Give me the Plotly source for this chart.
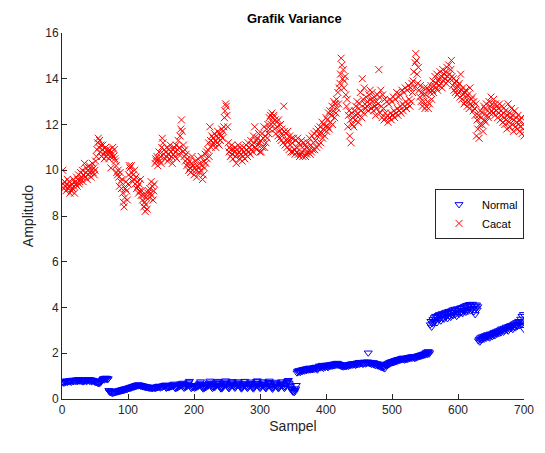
import plotly.graph_objects as go

# Variance per sample, two classes
normal = [
    0.72, 0.75, 0.70, 0.78, 0.74, 0.76, 0.80, 0.73, 0.77, 0.79,
    0.76, 0.81, 0.78, 0.74, 0.80, 0.83, 0.77, 0.79, 0.82, 0.78,
    0.84, 0.80, 0.77, 0.82, 0.86, 0.79, 0.81, 0.85, 0.78, 0.83,
    0.80, 0.76, 0.82, 0.79, 0.84, 0.81, 0.77, 0.83, 0.80, 0.86,
    0.82, 0.78, 0.85, 0.80, 0.76, 0.83, 0.79, 0.81, 0.77, 0.74,
    0.78, 0.72, 0.75, 0.70, 0.73, 0.68, 0.74, 0.71, 0.76, 0.79,
    0.82, 0.86, 0.90, 0.84, 0.88, 0.92, 0.87, 0.91, 0.85, 0.89,
    0.38, 0.32, 0.29, 0.35, 0.27, 0.31, 0.25, 0.30, 0.28, 0.33,
    0.29, 0.34, 0.31, 0.36, 0.32, 0.37, 0.34, 0.39, 0.35, 0.40,
    0.37, 0.42, 0.38, 0.44, 0.40, 0.45, 0.42, 0.47, 0.43, 0.48,
    0.46, 0.50, 0.47, 0.52, 0.49, 0.54, 0.51, 0.56, 0.53, 0.58,
    0.55, 0.60, 0.57, 0.62, 0.58, 0.63, 0.59, 0.61, 0.57, 0.60,
    0.56, 0.58, 0.54, 0.57, 0.53, 0.55, 0.51, 0.54, 0.50, 0.53,
    0.49, 0.52, 0.48, 0.51, 0.47, 0.50, 0.46, 0.49, 0.52, 0.48,
    0.51, 0.47, 0.53, 0.50, 0.55, 0.52, 0.57, 0.54, 0.49, 0.53,
    0.56, 0.52, 0.58, 0.55, 0.60, 0.57, 0.62, 0.48, 0.51, 0.54,
    0.50, 0.55, 0.52, 0.58, 0.54, 0.60, 0.56, 0.63, 0.59, 0.66,
    0.50, 0.46, 0.53, 0.49, 0.56, 0.52, 0.59, 0.55, 0.62, 0.67,
    0.58, 0.64, 0.70, 0.52, 0.48, 0.55, 0.51, 0.58, 0.63, 0.57,
    0.66, 0.72, 0.78, 0.60, 0.52, 0.47, 0.54, 0.50, 0.57, 0.53,
    0.48, 0.55, 0.51, 0.58, 0.54, 0.61, 0.57, 0.64, 0.70, 0.76,
    0.62, 0.55, 0.49, 0.45, 0.52, 0.48, 0.55, 0.51, 0.58, 0.63,
    0.57, 0.65, 0.71, 0.79, 0.68, 0.60, 0.53, 0.47, 0.54, 0.50,
    0.57, 0.53, 0.60, 0.66, 0.72, 0.78, 0.69, 0.61, 0.55, 0.49,
    0.45, 0.52, 0.48, 0.56, 0.62, 0.68, 0.75, 0.80, 0.70, 0.63,
    0.56, 0.50, 0.46, 0.53, 0.59, 0.65, 0.72, 0.77, 0.67, 0.60,
    0.54, 0.48, 0.52, 0.58, 0.64, 0.71, 0.76, 0.68, 0.61, 0.55,
    0.49, 0.45, 0.51, 0.57, 0.63, 0.70, 0.78, 0.66, 0.59, 0.53,
    0.47, 0.52, 0.58, 0.64, 0.69, 0.75, 0.62, 0.55, 0.49, 0.45,
    0.51, 0.57, 0.63, 0.70, 0.77, 0.80, 0.68, 0.60, 0.53, 0.47,
    0.52, 0.58, 0.65, 0.71, 0.76, 0.64, 0.57, 0.50, 0.46, 0.53,
    0.59, 0.66, 0.73, 0.79, 0.69, 0.61, 0.54, 0.48, 0.44, 0.50,
    0.56, 0.62, 0.68, 0.74, 0.63, 0.56, 0.50, 0.46, 0.52, 0.58,
    0.64, 0.70, 0.76, 0.66, 0.59, 0.52, 0.47, 0.53, 0.60, 0.67,
    0.73, 0.78, 0.82, 0.70, 0.62, 0.55, 0.48, 0.42, 0.36, 0.31,
    0.33, 0.29, 0.38, 0.45, 0.60, 1.15, 1.22, 1.18, 1.25, 1.20,
    1.17, 1.24, 1.28, 1.21, 1.26, 1.30, 1.23, 1.27, 1.32, 1.25,
    1.29, 1.34, 1.27, 1.31, 1.36, 1.28, 1.33, 1.30, 1.35, 1.29,
    1.34, 1.38, 1.31, 1.36, 1.40, 1.33, 1.28, 1.35, 1.39, 1.45,
    1.41, 1.37, 1.43, 1.48, 1.40, 1.35, 1.42, 1.46, 1.39, 1.44,
    1.49, 1.42, 1.38, 1.45, 1.50, 1.43, 1.47, 1.52, 1.44, 1.48,
    1.53, 1.46, 1.50, 1.55, 1.48, 1.51, 1.57, 1.49, 1.54, 1.47,
    1.52, 1.45, 1.50, 1.43, 1.48, 1.41, 1.46, 1.44, 1.49, 1.42,
    1.47, 1.45, 1.50, 1.44, 1.48, 1.52, 1.46, 1.51, 1.55, 1.49,
    1.53, 1.50, 1.56, 1.52, 1.48, 1.54, 1.58, 1.51, 1.55, 1.60,
    1.53, 1.57, 1.61, 1.55, 1.59, 1.52, 1.56, 1.62, 1.58, 1.54,
    1.60, 1.57, 1.63, 2.02, 1.59, 1.55, 1.61, 1.56, 1.52, 1.58,
    1.54, 1.60, 1.50, 1.56, 1.47, 1.53, 1.49, 1.55, 1.45, 1.51,
    1.43, 1.48, 1.40, 1.46, 1.38, 1.44, 1.36, 1.42, 1.33, 1.48,
    1.52, 1.46, 1.55, 1.50, 1.58, 1.53, 1.61, 1.56, 1.63, 1.59,
    1.65, 1.60, 1.67, 1.62, 1.69, 1.64, 1.71, 1.66, 1.73, 1.68,
    1.74, 1.70, 1.76, 1.72, 1.78, 1.73, 1.80, 1.75, 1.71, 1.77,
    1.73, 1.79, 1.74, 1.81, 1.76, 1.82, 1.78, 1.84, 1.79, 1.85,
    1.80, 1.86, 1.82, 1.78, 1.84, 1.80, 1.87, 1.83, 1.89, 1.85,
    1.90, 1.86, 1.92, 1.88, 1.94, 1.90, 1.96, 1.92, 1.98, 1.93,
    1.99, 2.05, 1.95, 2.01, 2.08, 1.97, 2.03, 3.25, 3.40, 3.15,
    3.30, 3.48, 3.35, 3.56, 3.40, 3.62, 3.46, 3.34, 3.58, 3.66,
    3.48, 3.70, 3.54, 3.42, 3.64, 3.74, 3.52, 3.70, 3.50, 3.77,
    3.60, 3.80, 3.64, 3.52, 3.75, 3.84, 3.62, 3.80, 3.58, 3.86,
    3.68, 3.90, 3.66, 3.80, 3.93, 3.70, 3.86, 3.62, 3.95, 3.76,
    3.88, 3.72, 3.97, 3.78, 4.00, 3.80, 3.74, 4.02, 3.85, 4.06,
    3.88, 3.80, 4.10, 3.92, 3.84, 4.12, 3.94, 4.14, 3.86, 4.05,
    3.92, 4.15, 3.97, 3.82, 4.08, 3.70, 3.98, 4.12, 3.90, 4.04,
    2.55, 2.62, 2.50, 2.68, 2.58, 2.72, 2.60, 2.66, 2.75, 2.63,
    2.70, 2.78, 2.67, 2.74, 2.82, 2.71, 2.79, 2.68, 2.85, 2.76,
    2.83, 2.73, 2.88, 2.80, 2.92, 2.78, 2.86, 2.95, 2.84, 2.91,
    2.99, 2.87, 2.95, 3.02, 2.90, 3.07, 2.97, 3.04, 2.93, 3.10,
    3.00, 3.08, 3.15, 3.03, 3.12, 2.98, 3.18, 3.06, 3.14, 3.22,
    3.10, 3.20, 3.05, 3.26, 3.15, 3.30, 3.12, 3.24, 3.35, 3.18,
    3.28, 3.40, 3.22, 3.33, 3.50, 3.25, 3.62, 3.38, 3.70, 3.05,
]

cacat = [
    10.0, 9.4, 9.2, 9.5, 9.3, 9.1, 9.4, 9.6, 9.2, 9.3,
    9.5, 9.0, 9.3, 9.1, 9.4, 9.2, 9.6, 9.3, 9.0, 9.5,
    9.4, 9.7, 9.3, 9.6, 9.8, 9.4, 9.5, 9.9, 9.6, 9.7,
    10.0, 9.5, 9.8, 10.3, 9.7, 9.9, 10.1, 9.6, 10.0, 9.8,
    10.2, 9.9, 10.1, 9.7, 10.0, 10.3, 9.9, 10.1, 9.8, 10.0,
    10.4, 10.6, 10.9, 11.2, 11.4, 11.0, 11.3, 10.8, 11.1, 10.6,
    10.9, 11.1, 10.7, 10.5, 10.8, 11.0, 10.6, 10.9, 10.7, 10.8,
    10.5, 10.9, 10.6, 10.1, 10.8, 10.7, 11.0, 10.6, 10.9, 10.5,
    10.4, 10.2, 9.9, 9.8, 10.0, 9.7, 9.3, 9.9, 9.5, 9.2,
    9.6, 9.0, 8.6, 8.4, 8.8, 9.2, 9.5, 9.1, 8.7, 9.4,
    9.8, 10.2, 10.1, 9.7, 10.2, 9.9, 9.5, 9.8, 9.6, 10.0,
    9.4, 9.7, 9.2, 9.5, 9.3, 9.0, 9.4, 9.1, 9.6, 8.9,
    9.1, 8.7, 8.9, 8.4, 8.6, 8.2, 8.5, 8.8, 8.3, 9.0,
    9.1, 8.8, 9.2, 9.0, 9.5, 8.9, 9.3, 8.7, 9.1, 9.4,
    10.3, 10.5, 10.4, 10.6, 10.2, 10.5, 10.8, 10.4, 10.6, 10.3,
    11.0, 11.4, 11.2, 10.7, 10.9, 10.5, 10.8, 10.6, 11.0, 10.4,
    10.7, 10.9, 10.5, 11.1, 10.8, 10.6, 10.3, 10.9, 10.7, 11.0,
    10.6, 10.8, 11.1, 10.5, 10.9, 11.3, 10.7, 11.0, 11.5, 11.8,
    12.2, 11.7, 10.8, 11.1, 10.6, 10.9, 10.4, 10.7, 10.2, 10.5,
    10.3, 10.0, 10.4, 10.1, 9.9, 10.3, 10.6, 10.0, 10.2, 9.8,
    10.1, 10.4, 10.0, 9.7, 10.2, 10.5, 10.1, 9.9, 10.3, 10.0,
    10.6, 10.2, 9.6, 9.8, 10.4, 10.1, 10.7, 10.3, 10.8, 10.5,
    10.9, 11.2, 10.6, 11.9, 11.3, 11.0, 11.5, 11.1, 11.4, 11.2,
    11.6, 11.3, 11.0, 11.5, 11.2, 11.7, 11.4, 11.1, 11.6, 11.3,
    11.5, 11.8, 11.4, 11.7, 11.9, 12.3, 12.6, 12.9, 12.8, 12.4,
    11.9, 11.2, 10.8, 11.0, 10.6, 10.9, 11.1, 10.7, 10.5, 10.9,
    10.8, 11.0, 10.6, 10.3, 10.9, 10.7, 11.1, 10.8, 10.5, 11.0,
    10.7, 10.9, 10.4, 10.6, 11.0, 10.8, 10.5, 10.7, 11.1, 10.9,
    10.6, 11.2, 10.8, 11.0, 10.7, 11.3, 10.9, 11.1, 10.8, 11.5,
    11.2, 11.9, 11.0, 11.3, 10.9, 11.4, 11.1, 11.6, 11.2, 10.8,
    11.3, 10.8, 11.6, 11.0, 11.4, 11.9, 11.0, 11.5, 11.2, 11.8,
    11.4, 12.0, 11.6, 12.3, 11.8, 12.4, 12.0, 12.5, 12.1, 12.3,
    12.4, 11.8, 12.2, 11.6, 12.1, 11.9, 11.5, 12.2, 11.7, 11.4,
    12.0, 11.3, 11.8, 11.6, 11.2, 12.8, 11.7, 11.1, 11.6, 11.3,
    11.0, 11.7, 11.3, 10.9, 11.5, 11.1, 10.8, 11.4, 11.2, 10.8,
    11.4, 10.9, 10.7, 11.3, 11.0, 10.8, 11.4, 10.7, 11.2, 10.6,
    11.1, 10.7, 11.3, 10.8, 10.6, 11.2, 10.9, 11.1, 10.6, 11.0,
    10.7, 11.2, 10.8, 10.9, 11.4, 10.7, 11.1, 10.8, 11.5, 10.9,
    11.2, 11.6, 10.9, 11.3, 11.7, 11.0, 11.5, 11.8, 11.1, 11.6,
    11.9, 11.2, 11.6, 12.1, 11.4, 11.8, 12.0, 11.5, 11.9, 12.3,
    11.7, 12.2, 11.9, 12.5, 11.8, 12.6, 12.1, 12.4, 12.8, 12.0,
    12.6, 13.0, 12.3, 12.9, 12.5, 13.1, 12.7, 13.4, 12.9, 13.6,
    13.8, 14.2, 14.9, 14.6, 14.0, 14.4, 13.6, 13.9, 14.1, 13.3,
    12.8, 13.1, 11.9, 12.4, 12.6, 11.5, 12.2, 11.2, 12.5, 12.0,
    12.3, 11.9, 12.6, 12.2, 12.8, 12.4, 13.0, 12.5, 12.1, 12.7,
    12.9, 13.4, 12.6, 12.3, 14.0, 13.1, 12.5, 13.6, 12.9, 12.7,
    13.2, 12.8, 13.0, 12.6, 13.3, 12.9, 13.5, 13.1, 12.7, 13.4,
    13.0, 12.6, 13.2, 12.8, 12.4, 13.0, 12.7, 13.3, 12.9, 14.4,
    13.2, 12.5, 13.5, 12.8, 12.3, 13.3, 12.7, 12.2, 13.1, 12.5,
    12.3, 13.0, 12.4, 12.1, 12.9, 12.3, 13.1, 12.5, 12.2, 13.0,
    12.4, 13.2, 12.6, 12.3, 13.1, 12.5, 13.4, 12.7, 12.4, 13.2,
    12.6, 13.3, 12.8, 12.5, 13.5, 12.9, 12.6, 13.4, 12.8, 13.6,
    13.0, 12.7, 13.5, 12.9, 13.7, 13.1, 12.8, 13.6, 13.0, 13.8,
    13.4, 13.9, 14.3, 13.6, 14.7, 15.1, 14.8, 14.2, 13.8, 14.5,
    13.5, 13.2, 13.7, 13.0, 13.4, 12.8, 13.3, 13.0, 13.6, 12.7,
    13.3, 12.8, 13.6, 13.0, 12.7, 13.5, 12.9, 13.4, 13.7, 13.1,
    13.5, 13.9, 13.4, 13.7, 14.1, 13.6, 13.8, 14.2, 13.5, 13.9,
    14.0, 13.7, 14.3, 13.8, 14.1, 13.6, 14.4, 13.9, 14.2, 14.0,
    14.3, 13.8, 14.5, 14.1, 13.9, 14.6, 14.2, 14.0, 14.4, 14.8,
    14.1, 13.7, 14.0, 13.5, 13.8, 13.4, 13.9, 13.6, 13.3, 13.7,
    13.4, 13.8, 13.2, 14.2, 13.5, 13.1, 13.6, 13.3, 12.9, 13.4,
    13.0, 13.5, 13.2, 12.8, 13.3, 13.0, 12.7, 13.6, 12.9, 13.1,
    12.8, 13.2, 12.6, 13.0, 12.7, 12.4, 12.9, 11.5, 12.2, 11.8,
    12.4, 11.4, 12.0, 12.6, 12.3, 12.0, 12.5, 11.7, 12.8, 12.2,
    12.7, 12.1, 12.9, 12.4, 12.6, 12.3, 13.0, 12.5, 12.8, 13.2,
    12.6, 12.9, 12.5, 13.1, 12.7, 12.4, 12.9, 12.6, 12.8, 12.3,
    12.7, 12.5, 12.9, 12.2, 12.6, 12.4, 12.8, 12.1, 12.5, 12.3,
    12.0, 12.6, 12.2, 11.8, 12.4, 12.9, 12.1, 12.5, 11.9, 12.3,
    12.7, 12.0, 12.4, 11.7, 12.2, 12.6, 11.9, 12.3, 12.1, 11.8,
    12.4, 12.0, 11.7, 12.2, 11.9, 12.3, 11.6, 12.0, 11.8, 11.5,
]

sampel = list(range(1, len(normal) + 1))
x_ticks = [0, 100, 200, 300, 400, 500, 600, 700]
y_ticks = [0, 2, 4, 6, 8, 10, 12, 14, 16]

AXIS_COLOR = "#262626"
FONT = "Liberation Sans, Arial, Helvetica, sans-serif"

fig = go.Figure()
fig.add_trace(go.Scatter(
    x=sampel, y=normal, mode="markers", name="Normal",
    marker=dict(symbol="triangle-down-open", size=7, color="#0000FF",
                line=dict(width=1, color="#0000FF")),
))
fig.add_trace(go.Scatter(
    x=sampel, y=cacat, mode="markers", name="Cacat",
    marker=dict(symbol="x-thin-open", size=7, color="#FF0000",
                line=dict(width=1, color="#FF0000")),
))

axis_common = dict(
    showgrid=False, zeroline=False, showline=True, linecolor=AXIS_COLOR,
    linewidth=1, mirror=False, ticks="inside", ticklen=5, tickcolor=AXIS_COLOR,
    tickfont=dict(size=12, color=AXIS_COLOR, family=FONT),
)

fig.update_layout(
    width=545, height=453,
    margin=dict(l=62, r=21, t=33, b=54),
    paper_bgcolor="white", plot_bgcolor="white",
    font=dict(family=FONT, color=AXIS_COLOR),
    title=dict(text="<b>Grafik Variance</b>", x=0.54, xanchor="center",
               y=0.96, yanchor="middle",
               font=dict(size=13, color="#000000", family=FONT)),
    xaxis=dict(range=[0, 700], tickvals=x_ticks, ticktext=[str(v) for v in x_ticks],
               title=dict(text="Sampel", font=dict(size=14, color=AXIS_COLOR), standoff=4),
               **axis_common),
    yaxis=dict(range=[0, 16], tickvals=y_ticks, ticktext=[str(v) for v in y_ticks],
               title=dict(text="Amplitudo", font=dict(size=14, color=AXIS_COLOR), standoff=8),
               **axis_common),
    legend=dict(x=1.0, xanchor="right", y=0.574, yanchor="top",
                bgcolor="white", bordercolor=AXIS_COLOR, borderwidth=1,
                font=dict(size=11, color="#000000", family=FONT),
                itemwidth=36, tracegroupgap=0),
    showlegend=True,
)

fig.write_html("out.html")
